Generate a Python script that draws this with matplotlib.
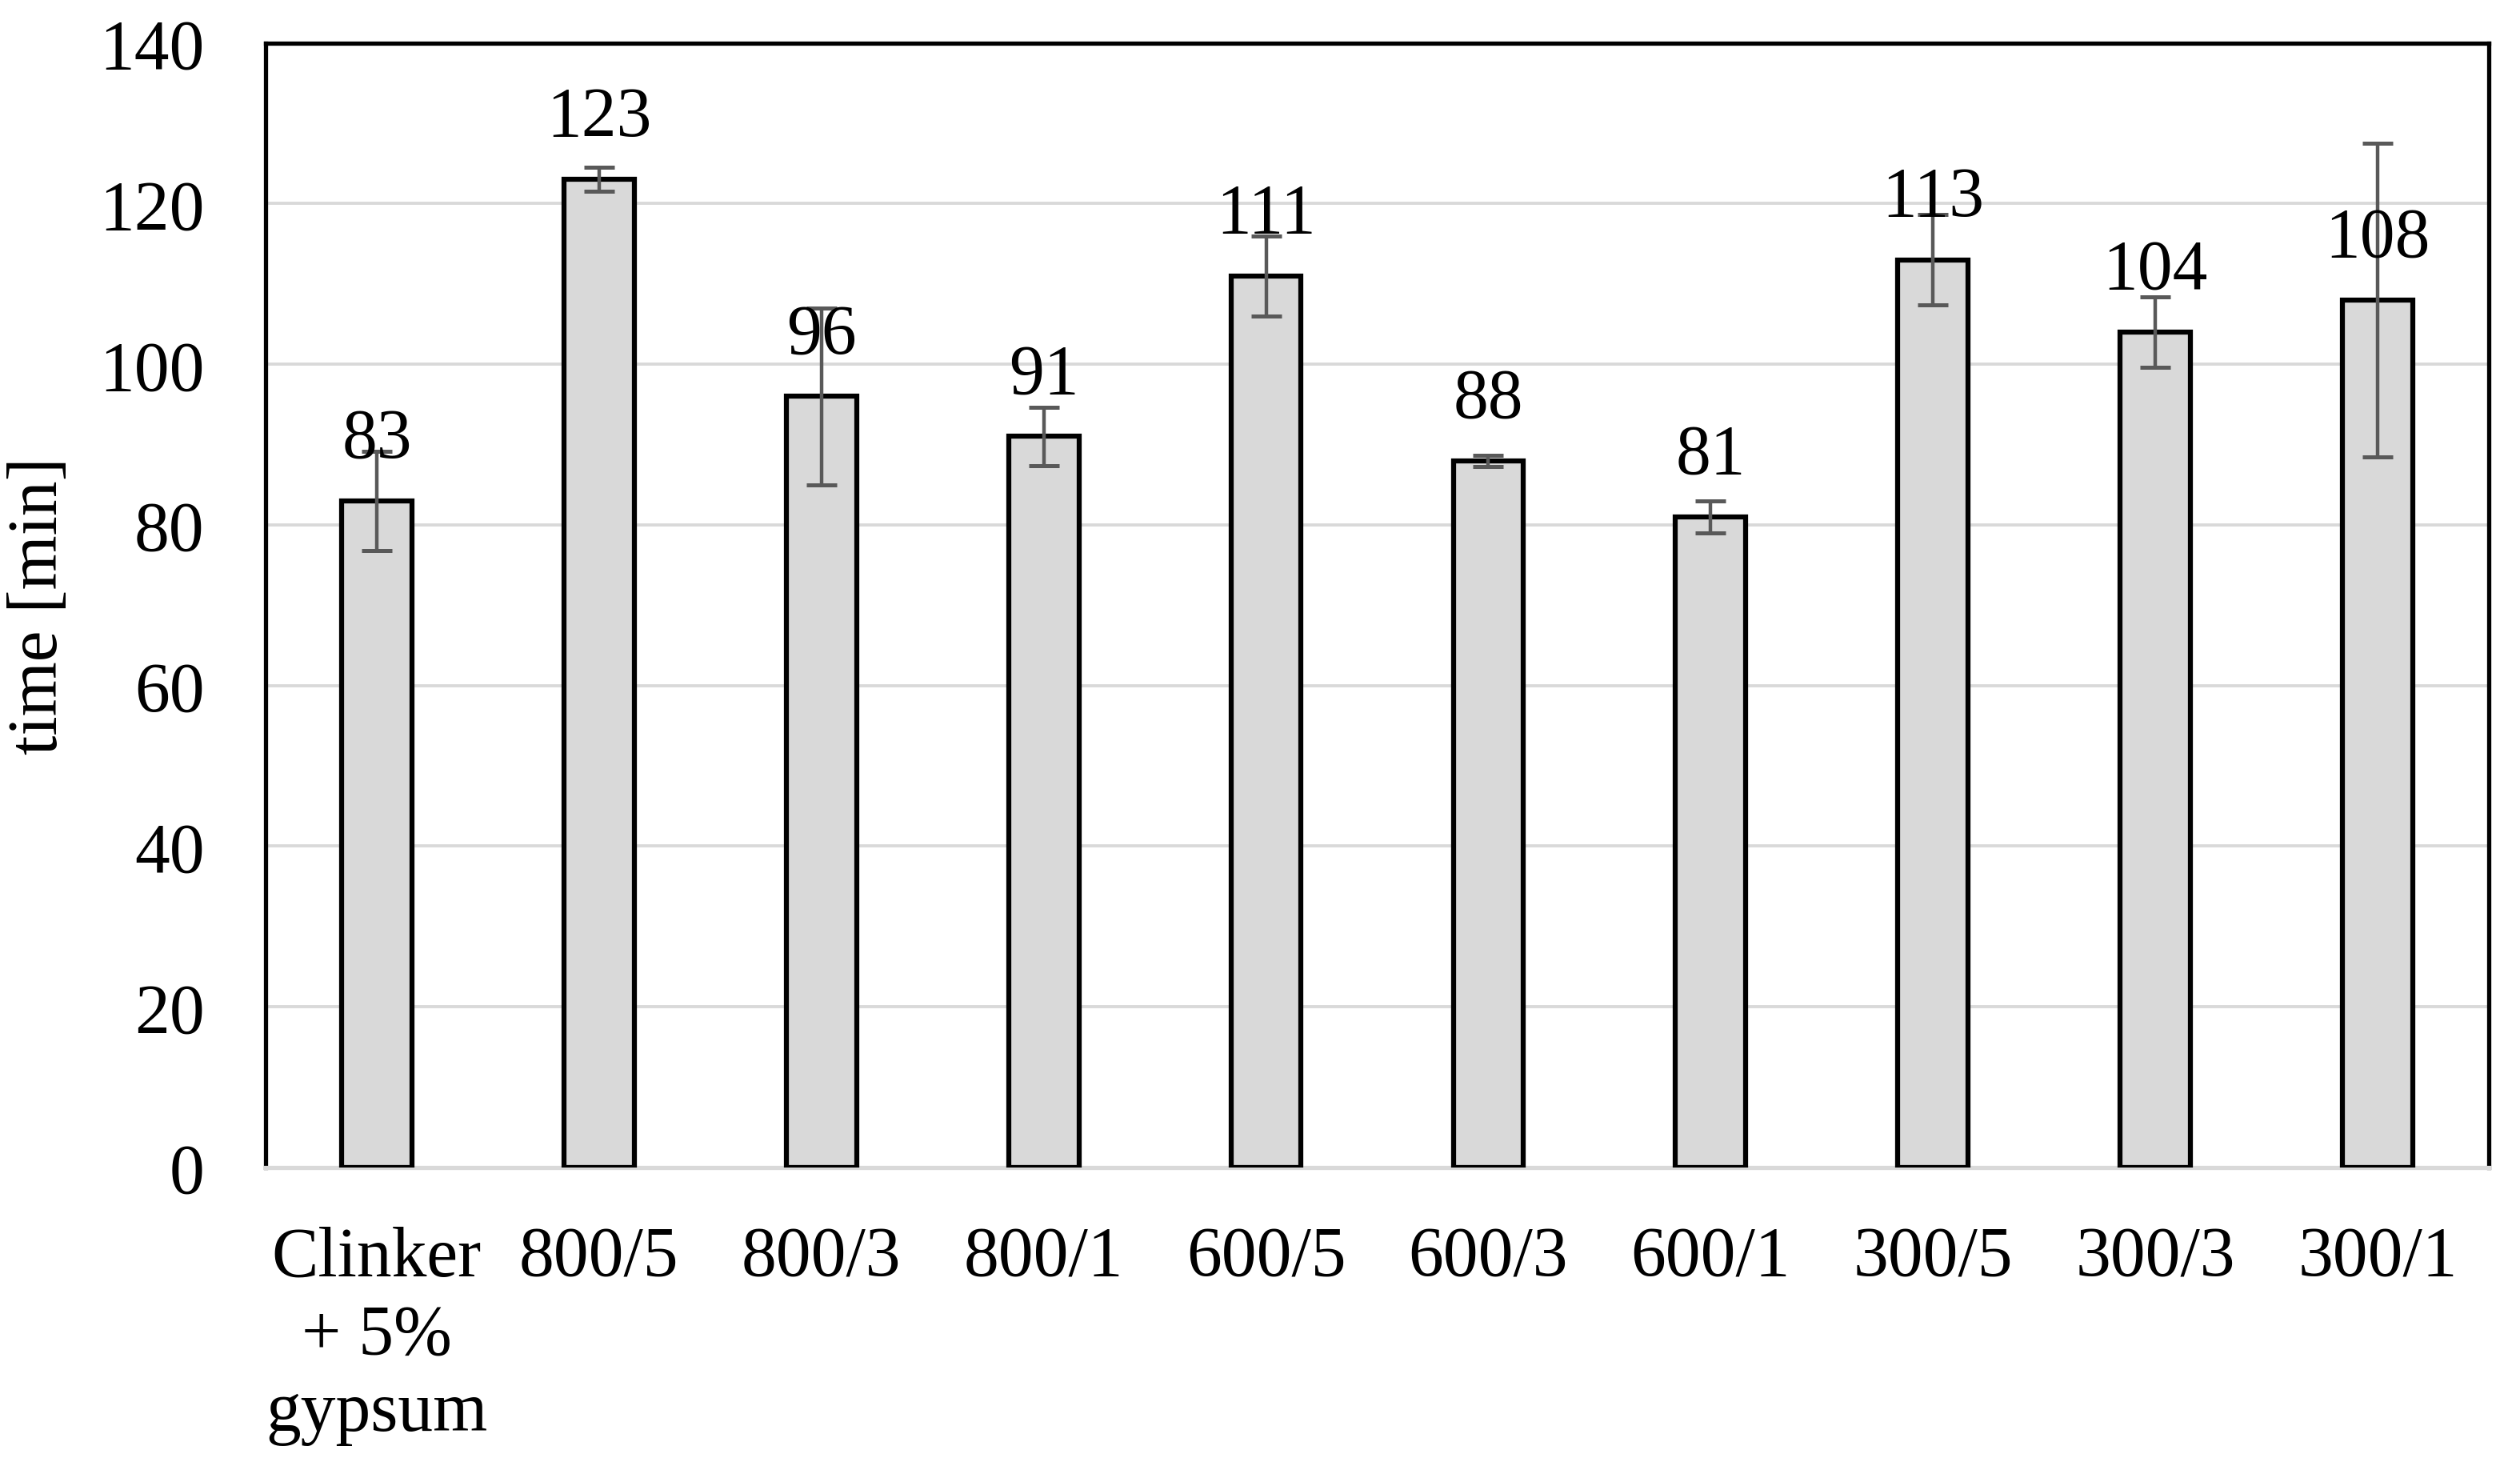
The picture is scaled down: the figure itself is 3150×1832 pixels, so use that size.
import numpy as np
import matplotlib.pyplot as plt

# Data
labels = ["Clinker\n+ 5%\ngypsum", "800/5", "800/3", "800/1", "600/5",
          "600/3", "600/1", "300/5", "300/3", "300/1"]
times = [83, 123, 96, 91, 111, 88, 81, 113, 104, 108]
errors = [6.2, 1.5, 11.0, 3.6, 5.0, 0.7, 2.0, 5.6, 4.4, 19.5]

plt.rcParams["font.family"] = ["Liberation Serif", "DejaVu Serif"]

fig = plt.figure(figsize=(31.5, 18.33), dpi=100)
ax = fig.add_axes([0.1054, 0.2035, 0.8822, 0.7667])

x = np.arange(len(labels))
ax.bar(x, times, width=0.316, color="#d9d9d9", edgecolor="black",
       linewidth=4.5, zorder=3)
ax.errorbar(x, times, yerr=errors, fmt="none", ecolor="#595959",
            elinewidth=3.2, capsize=13.5, capthick=3.6, zorder=4)

for xi, v in zip(x, times):
    ax.text(xi, v + 5.5, str(v), ha="center", va="baseline",
            fontsize=63, zorder=5)

ax.set_xlim(-0.5, len(labels) - 0.5)
ax.set_ylim(0, 140)
ax.set_yticks(range(0, 141, 20))
ax.set_xticks(x)
ax.set_xticklabels(labels, linespacing=1.26)
ax.tick_params(axis="both", length=0, labelsize=63)
ax.tick_params(axis="y", pad=55)
ax.tick_params(axis="x", pad=52)

ax.yaxis.grid(True, color="#d9d9d9", linewidth=2.8, zorder=0)
ax.set_axisbelow(True)

for side in ["left", "top", "right"]:
    ax.spines[side].set_color("black")
    ax.spines[side].set_linewidth(3.8)
ax.spines["bottom"].set_color("#d9d9d9")
ax.spines["bottom"].set_linewidth(3.8)

ax.set_ylabel("time [min]", fontsize=63)
ax.yaxis.set_label_coords(-0.087, 0.5)

fig.savefig("out.png", dpi=100)
